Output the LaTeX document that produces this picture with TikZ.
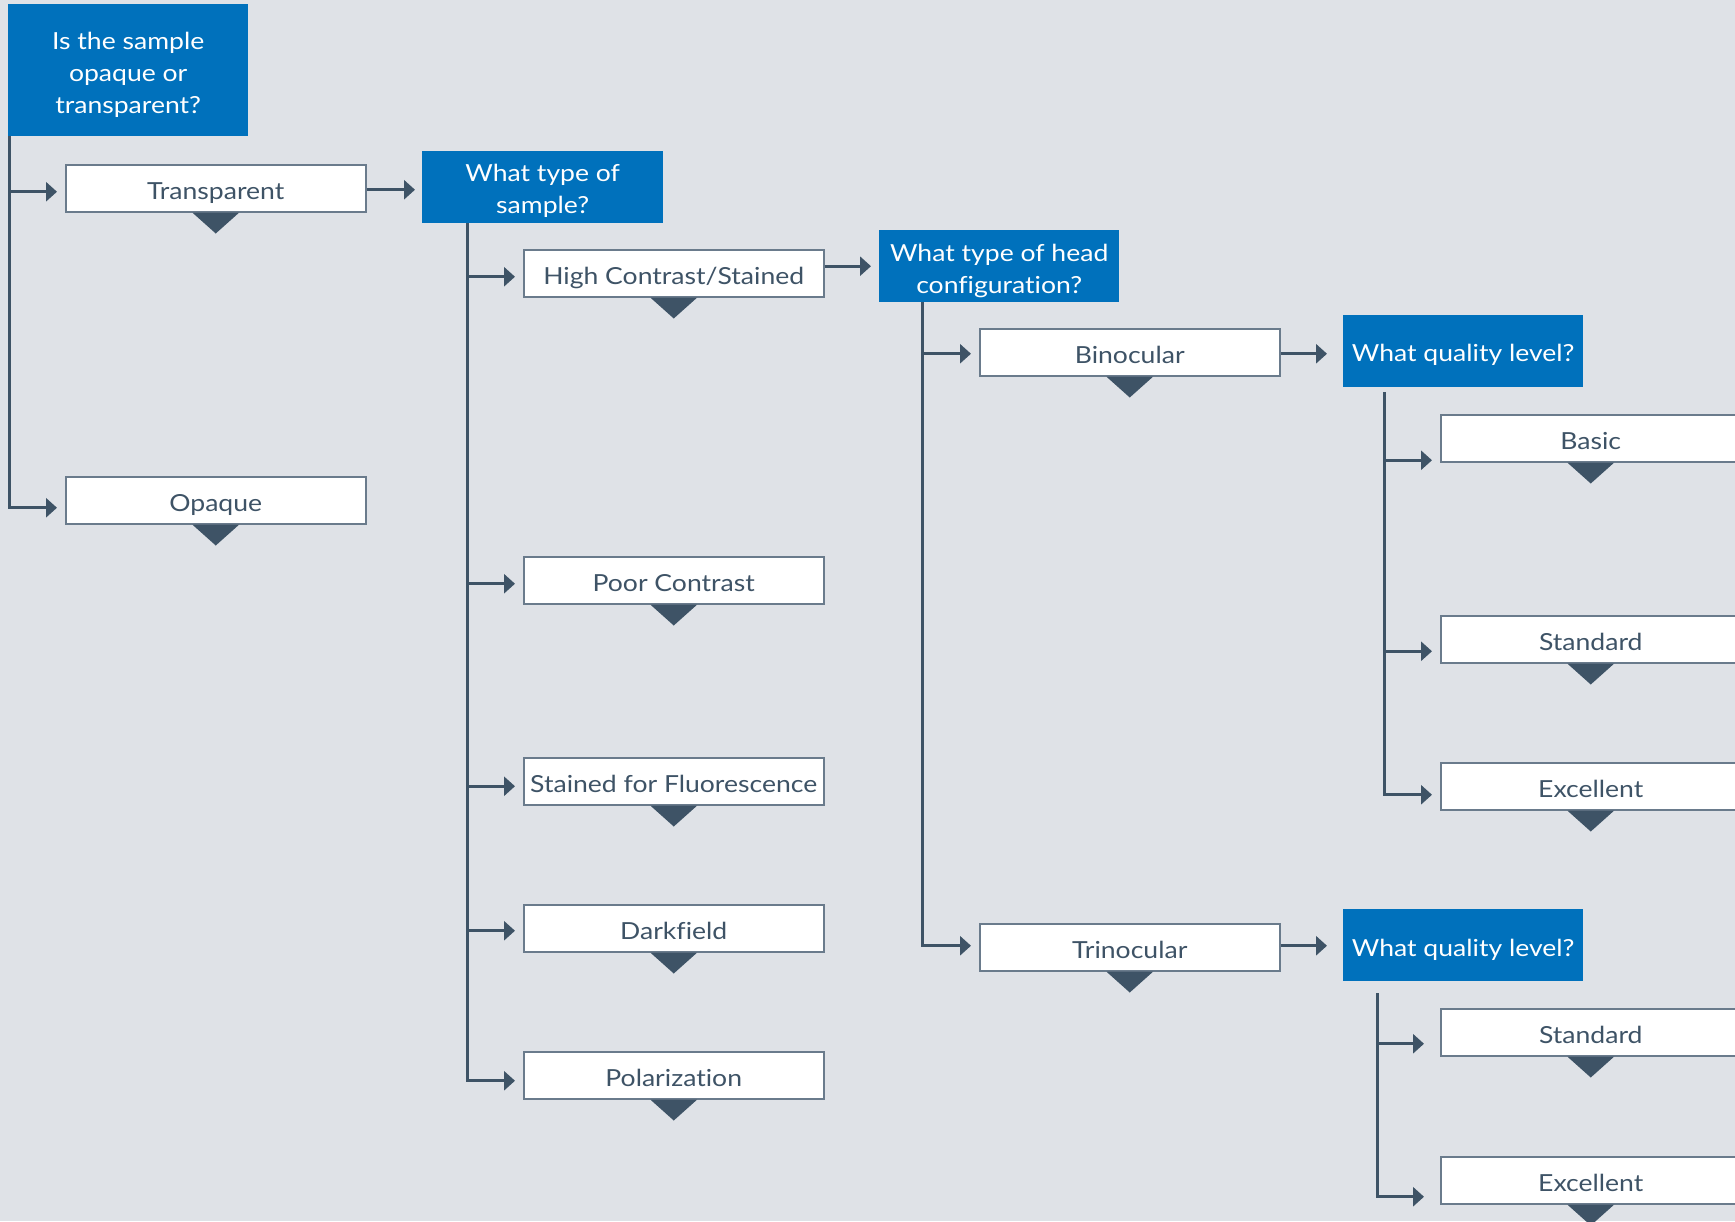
\documentclass[tikz,border=0pt]{standalone}
\usepackage{fontspec}
\setmainfont{Lato}[FakeStretch=1.13, Ligatures=NoCommon]
\usetikzlibrary{arrows.meta,calc}
\definecolor{bg}{HTML}{DFE2E7}
\definecolor{qblue}{HTML}{0071BC}
\definecolor{slate}{HTML}{3E5366}
\definecolor{boxline}{HTML}{6A7B8C}
\newcommand\mlines[2]{\raisebox{0pt}[0pt][#1]{\begin{tabular}[t]{@{}c@{}}#2\end{tabular}}}
\begin{document}
\begin{tikzpicture}[x=1pt,y=-1pt,
  txt/.style={font=\fontsize{23.5}{32}\selectfont},
  question/.style={txt, fill=qblue, text=white, anchor=north west, inner sep=0pt,
    minimum width=240pt, minimum height=72pt},
  answer/.style={txt, fill=white, draw=boxline, line width=1.5pt, text=slate,
    anchor=north west, inner sep=0pt, minimum width=300pt, minimum height=47pt,
    text height=22pt, text depth=0pt},
  conn/.style={draw=slate, line width=3pt, -{Triangle[length=11pt,width=19pt]}},
  notch/.style={fill=slate}
]
\useasboundingbox (0,0) rectangle (1735,1221);
\fill[bg] (0,0) rectangle (1735,1221);
\clip (0,0) rectangle (1735,1221);

% questions
\node[question, minimum height=132pt] (q1) at (8,4) {\mlines{42pt}{Is the sample\\opaque or\\transparent?}};
\node[question, minimum width=241pt] (q2) at (422,151) {\mlines{12pt}{What type of\\sample?}};
\node[question] (q3) at (879,230) {\mlines{10pt}{What type of head\\configuration?}};
\node[question, text height=20pt, text depth=0pt] (q4) at (1343,315) {What quality level?};
\node[question, text height=22pt, text depth=0pt] (q5) at (1343,909) {What quality level?};

% answers
\node[answer] (tr)  at (65,164)   {Transparent};
\node[answer] (op)  at (65,476)   {Opaque};
\node[answer] (hc)  at (523,249)  {High Contrast/Stained};
\node[answer] (pc)  at (523,556)  {Poor Contrast};
\node[answer] (sf)  at (523,757)  {Stained for Fluorescence};
\node[answer] (df)  at (523,904)  {Darkfield};
\node[answer] (po)  at (523,1051) {Polarization};
\node[answer] (bi)  at (979,328)  {Binocular};
\node[answer] (trn) at (979,923)  {Trinocular};
\node[answer] (ba)  at (1440,414) {Basic};
\node[answer] (st1) at (1440,615) {Standard};
\node[answer] (ex1) at (1440,762) {Excellent};
\node[answer] (st2) at (1440,1008) {Standard};
\node[answer] (ex2) at (1440,1156) {Excellent};

% notches
\foreach \n in {tr,op,hc,pc,sf,df,po,bi,trn,ba,st1,ex1,st2,ex2}
  \fill[notch] ($(\n.south)+(-23.5,0)$) -- ($(\n.south)+(23.5,0)$) -- ($(\n.south)+(0,21)$) -- cycle;

% trunks and branches
\coordinate (t1) at ($(q1.south west)+(1.5,0)$);
\draw[conn] (t1) |- ($(tr.west)+(-8,3.5)$);
\draw[conn] (t1) |- ($(op.west)+(-8,7.5)$);

\coordinate (t2) at ($(q2.south west)+(45,0)$);
\draw[conn] (t2) |- ($(hc.west)+(-8,3.5)$);
\draw[conn] (t2) |- ($(pc.west)+(-8,3.5)$);
\draw[conn] (t2) |- ($(sf.west)+(-8,5)$);
\draw[conn] (t2) |- ($(df.west)+(-8,2.5)$);
\draw[conn] (t2) |- ($(po.west)+(-8,5.5)$);

\coordinate (t3) at ($(q3.south west)+(43,0)$);
\draw[conn] (t3) |- ($(bi.west)+(-8,1.5)$);
\draw[conn] (t3) |- ($(trn.west)+(-8,-1.5)$);

\coordinate (t4) at ($(q4.south west)+(41,5)$);
\draw[conn] (t4) |- ($(ba.west)+(-8,22)$);
\draw[conn] (t4) |- ($(st1.west)+(-8,12)$);
\draw[conn] (t4) |- ($(ex1.west)+(-8,8.5)$);

\coordinate (t5) at ($(q5.south west)+(34,12)$);
\draw[conn] (t5) |- ($(st2.west)+(-16,11.5)$);
\draw[conn] (t5) |- ($(ex2.west)+(-16,16.5)$);

% box to question arrows
\draw[conn] ($(tr.east)+(0,1.5)$) -- ($(tr.east -| q2.west)+(-7,1.5)$);
\draw[conn] (hc.east |- q3.west) -- ($(q3.west)+(-8,0)$);
\draw[conn] ($(bi.east)+(0,1.5)$) -- ($(bi.east -| q4.west)+(-16,1.5)$);
\draw[conn] ($(trn.east)+(0,-1.5)$) -- ($(trn.east -| q5.west)+(-16,-1.5)$);
\end{tikzpicture}
\end{document}
